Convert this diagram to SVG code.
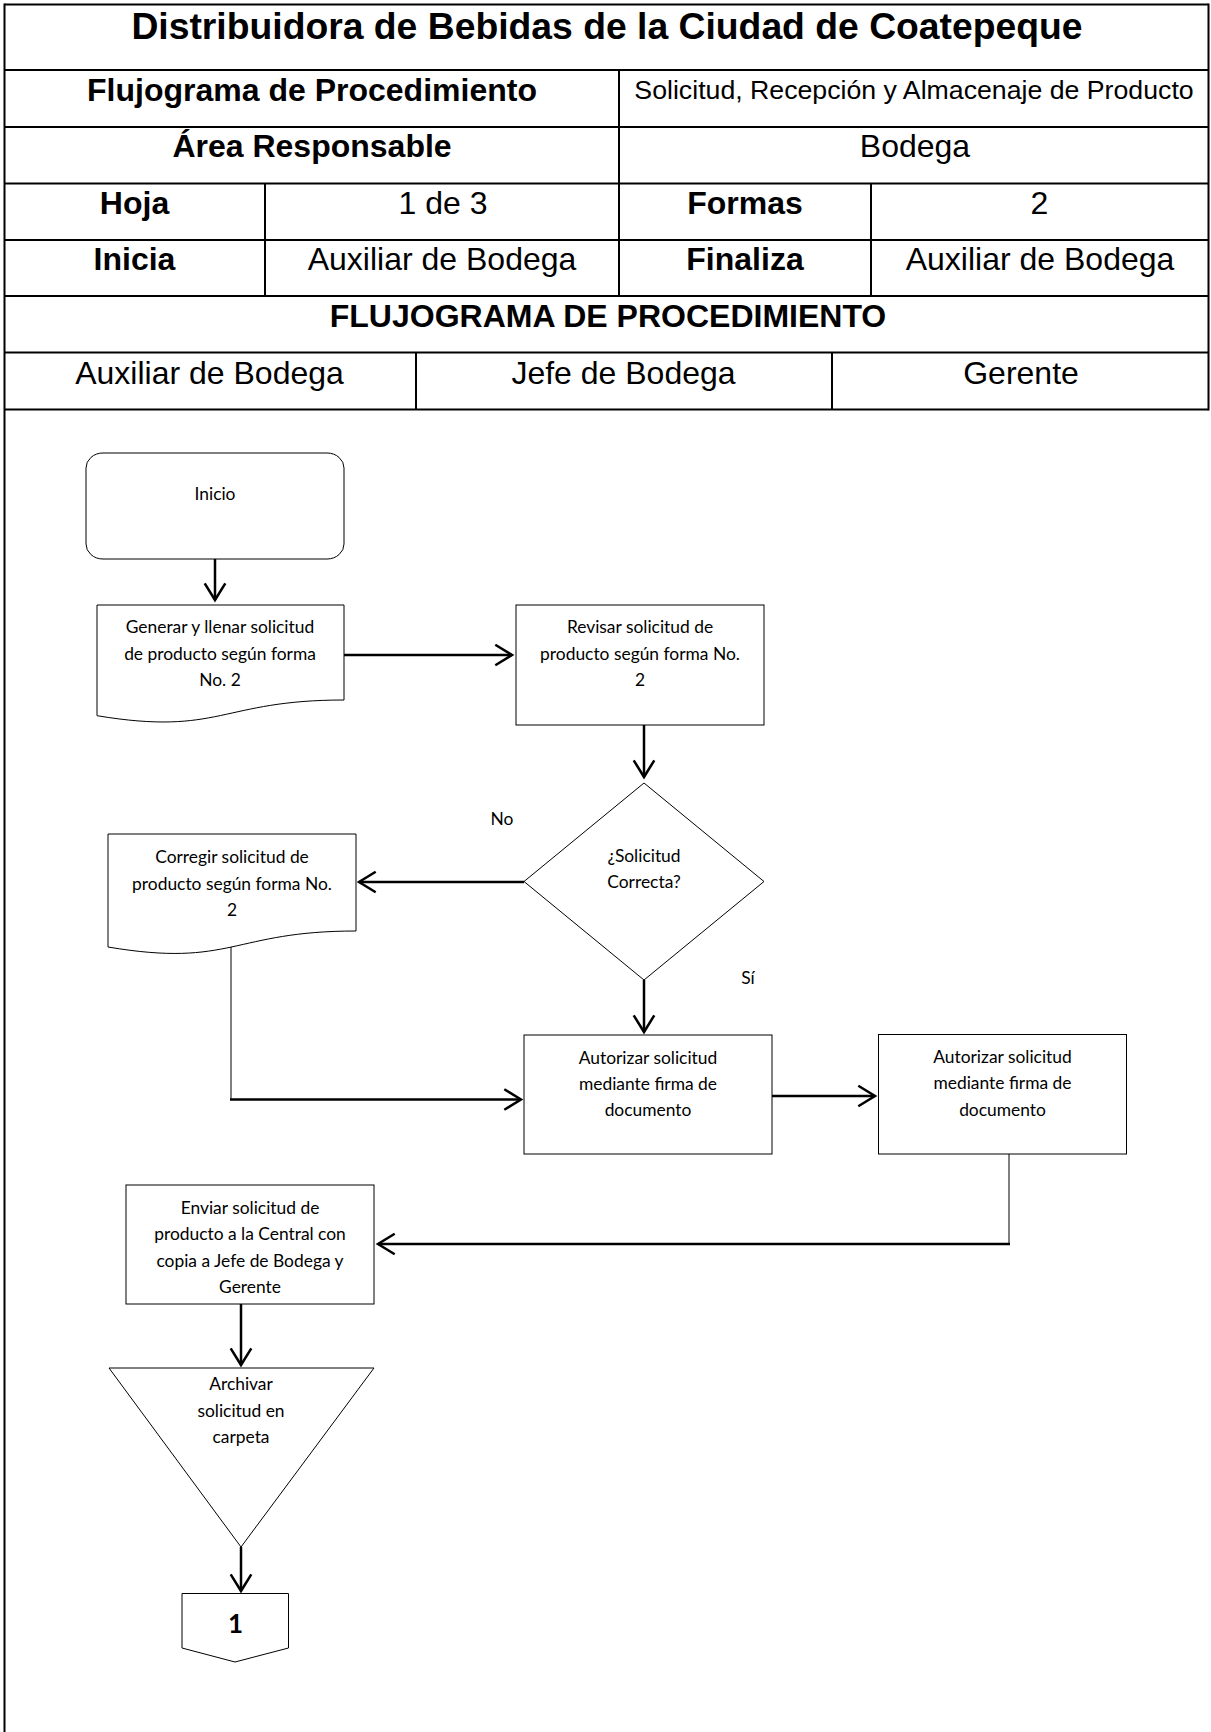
<svg xmlns="http://www.w3.org/2000/svg" width="1211" height="1732" viewBox="0 0 1211 1732">
  <style>
    .grid { stroke: #000; stroke-width: 2; fill: none; }
    .hd { font-family: "Liberation Sans", Arial, sans-serif; font-size: 32px; fill: #000; text-anchor: middle; }
    .b { font-weight: bold; }
    .shape { fill: #fff; stroke: #000; stroke-width: 1; }
    .lbl { font-family: Lato, "Liberation Sans", sans-serif; font-size: 17.4px; fill: #000; text-anchor: middle; }
    .flow { stroke: #000; stroke-width: 2.5; fill: none; }
    .flow.thin { stroke-width: 1; }
    .arrow { marker-end: url(#open); }
  </style>
  <defs>
    <marker id="open" markerUnits="userSpaceOnUse" viewBox="0 0 20 24" markerWidth="20" markerHeight="24" refX="18" refY="12" orient="auto" overflow="visible">
      <path d="M1.3,1.7 L18,12 L1.3,22.3" fill="none" stroke="#000" stroke-width="2.5"/>
    </marker>
  </defs>
  <rect width="1211" height="1732" fill="#fff"/>

  <!-- header table -->
  <g id="header">
    <g class="grid">
      <line x1="4.5" y1="4.5" x2="1208.5" y2="4.5"/>
      <line x1="4.5" y1="3.5" x2="4.5" y2="1732"/>
      <line x1="1208.5" y1="3.5" x2="1208.5" y2="410.5"/>
      <line x1="4.5" y1="70" x2="1208.5" y2="70"/>
      <line x1="4.5" y1="127" x2="1208.5" y2="127"/>
      <line x1="4.5" y1="183.5" x2="1208.5" y2="183.5"/>
      <line x1="4.5" y1="240" x2="1208.5" y2="240"/>
      <line x1="4.5" y1="296" x2="1208.5" y2="296"/>
      <line x1="4.5" y1="352.5" x2="1208.5" y2="352.5"/>
      <line x1="4.5" y1="409.5" x2="1208.5" y2="409.5"/>
      <line x1="619" y1="70" x2="619" y2="296"/>
      <line x1="265" y1="183.5" x2="265" y2="296"/>
      <line x1="871" y1="183.5" x2="871" y2="296"/>
      <line x1="416" y1="352.5" x2="416" y2="409.5"/>
      <line x1="832" y1="352.5" x2="832" y2="409.5"/>
    </g>
    <text class="hd b" x="607" y="39" style="font-size:37.3px">Distribuidora de Bebidas de la Ciudad de Coatepeque</text>
    <text class="hd b" x="312" y="101">Flujograma de Procedimiento</text>
    <text class="hd" x="914" y="99" style="font-size:26.7px">Solicitud, Recepción y Almacenaje de Producto</text>
    <text class="hd b" x="312" y="157">Área Responsable</text>
    <text class="hd" x="915" y="157">Bodega</text>
    <text class="hd b" x="134.5" y="214">Hoja</text>
    <text class="hd" x="443" y="214">1 de 3</text>
    <text class="hd b" x="745" y="214">Formas</text>
    <text class="hd" x="1039.5" y="214">2</text>
    <text class="hd b" x="134.5" y="270">Inicia</text>
    <text class="hd" x="442" y="270">Auxiliar de Bodega</text>
    <text class="hd b" x="745" y="270">Finaliza</text>
    <text class="hd" x="1040" y="270">Auxiliar de Bodega</text>
    <text class="hd b" x="608" y="327">FLUJOGRAMA DE PROCEDIMIENTO</text>
    <text class="hd" x="209.5" y="384">Auxiliar de Bodega</text>
    <text class="hd" x="623.5" y="384">Jefe de Bodega</text>
    <text class="hd" x="1021" y="384">Gerente</text>
  </g>

  <!-- connectors -->
  <g id="connectors">
    <line class="flow arrow" x1="215" y1="559" x2="215" y2="600"/>
    <line class="flow arrow" x1="344" y1="655" x2="512" y2="655"/>
    <line class="flow arrow" x1="644" y1="725" x2="644" y2="777"/>
    <line class="flow arrow" x1="524" y1="882" x2="359" y2="882"/>
    <line class="flow arrow" x1="644" y1="980" x2="644" y2="1032"/>
    <line class="flow thin" x1="231" y1="947" x2="231" y2="1099.5"/>
    <line class="flow arrow" x1="230" y1="1099.5" x2="521" y2="1099.5"/>
    <line class="flow arrow" x1="772" y1="1096" x2="875" y2="1096"/>
    <line class="flow thin" x1="1009" y1="1154" x2="1009" y2="1244"/>
    <line class="flow arrow" x1="1010" y1="1244" x2="378" y2="1244"/>
    <line class="flow arrow" x1="241" y1="1304" x2="241" y2="1365"/>
    <line class="flow arrow" x1="241" y1="1547" x2="241" y2="1591"/>
  </g>

  <!-- start -->
  <g id="inicio">
    <rect class="shape" x="86" y="453" width="258" height="106" rx="17" ry="15"/>
    <text class="lbl" x="215" y="499.5">Inicio</text>
  </g>

  <!-- document: fill request -->
  <g id="generar">
    <path class="shape" d="M97,605 H344 V700 C220.5,700 220.5,736.2 97,715.7 Z"/>
    <text class="lbl" x="220" y="633">Generar y llenar solicitud</text>
    <text class="lbl" x="220" y="659.5">de producto según forma</text>
    <text class="lbl" x="220" y="686">No. 2</text>
  </g>

  <g id="revisar">
    <rect class="shape" x="516" y="605" width="248" height="120"/>
    <text class="lbl" x="640" y="633">Revisar solicitud de</text>
    <text class="lbl" x="640" y="659.5">producto según forma No.</text>
    <text class="lbl" x="640" y="686">2</text>
  </g>

  <!-- decision -->
  <g id="decision">
    <path class="shape" d="M644,783 L764,881.5 L644,980 L524,881.5 Z"/>
    <text class="lbl" x="644" y="862">¿Solicitud</text>
    <text class="lbl" x="644" y="888">Correcta?</text>
    <text class="lbl" x="502" y="825">No</text>
    <text class="lbl" x="748" y="983.5">Sí</text>
  </g>

  <g id="corregir">
    <path class="shape" d="M108,834 H356 V931 C232,931 232,968 108,947 Z"/>
    <text class="lbl" x="232" y="863">Corregir solicitud de</text>
    <text class="lbl" x="232" y="889.5">producto según forma No.</text>
    <text class="lbl" x="232" y="916">2</text>
  </g>

  <g id="autorizar-jefe">
    <rect class="shape" x="524" y="1035" width="248" height="119"/>
    <text class="lbl" x="648" y="1063.5">Autorizar solicitud</text>
    <text class="lbl" x="648" y="1090">mediante firma de</text>
    <text class="lbl" x="648" y="1116">documento</text>
  </g>

  <g id="autorizar-gerente">
    <rect class="shape" x="878.5" y="1034.5" width="248" height="119.5"/>
    <text class="lbl" x="1002.5" y="1062.5">Autorizar solicitud</text>
    <text class="lbl" x="1002.5" y="1089">mediante firma de</text>
    <text class="lbl" x="1002.5" y="1115.5">documento</text>
  </g>

  <g id="enviar">
    <rect class="shape" x="126" y="1185" width="248" height="119"/>
    <text class="lbl" x="250" y="1213.5">Enviar solicitud de</text>
    <text class="lbl" x="250" y="1240">producto a la Central con</text>
    <text class="lbl" x="250" y="1266.5">copia a Jefe de Bodega y</text>
    <text class="lbl" x="250" y="1293">Gerente</text>
  </g>

  <!-- archive (inverted triangle) -->
  <g id="archivar">
    <path class="shape" d="M109,1368 L374,1368 L241,1547 Z"/>
    <text class="lbl" x="241" y="1390">Archivar</text>
    <text class="lbl" x="241" y="1416.5">solicitud en</text>
    <text class="lbl" x="241" y="1443">carpeta</text>
  </g>

  <!-- off-page connector -->
  <g id="conector-1">
    <path class="shape" d="M182,1593.5 H288.5 V1648 L235,1662 L182,1648 Z"/>
    <text class="lbl" x="235.5" y="1633" style="font-size:26px;font-weight:bold">1</text>
  </g>
</svg>
